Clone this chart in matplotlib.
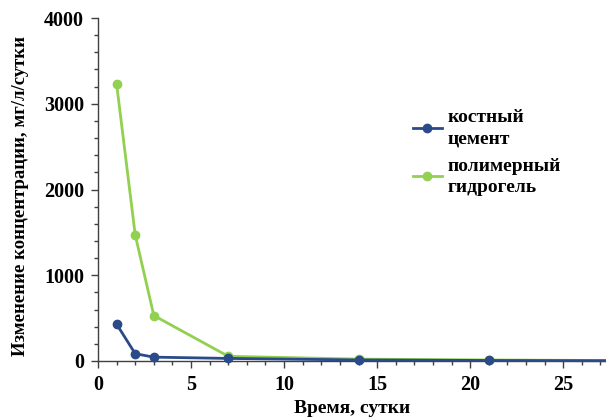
import matplotlib
matplotlib.use("Agg")
import matplotlib.pyplot as plt
from matplotlib.ticker import MultipleLocator

days = [1, 2, 3, 7, 14, 21, 28]
cement = [430, 85, 45, 30, 12, 6, 3]
hydrogel = [3230, 1470, 530, 55, 22, 12, 5]
series_names = ["костный\nцемент", "полимерный\nгидрогель"]

plt.rcParams['font.family'] = ['Liberation Serif', 'DejaVu Serif']
plt.rcParams['font.weight'] = 'bold'

fig = plt.figure(figsize=(6.06, 4.2), dpi=100)
ax = fig.add_axes([98/606, 1-361/420, 1-98/606, (361-18)/420])

ax.plot(days, cement, color='#2A4A8A', lw=2, marker='o', ms=6, label=series_names[0], clip_on=False, zorder=3)
ax.plot(days, hydrogel, color='#92D050', lw=2, marker='o', ms=6, label=series_names[1], clip_on=False, zorder=2)

ax.set_xlim(0, 27.3)
ax.set_ylim(0, 4000)
ax.xaxis.set_major_locator(MultipleLocator(5))
ax.xaxis.set_minor_locator(MultipleLocator(1))
ax.yaxis.set_major_locator(MultipleLocator(1000))
ax.yaxis.set_minor_locator(MultipleLocator(200))
for s in ['top', 'right']:
    ax.spines[s].set_visible(False)
for s in ['left', 'bottom']:
    ax.spines[s].set_color('#404040')
    ax.spines[s].set_linewidth(1)
ax.tick_params(which='major', length=5, width=1, color='#404040', labelsize=14.5, pad=5)
ax.tick_params(which='minor', length=3, width=1, color='#404040')
for lbl in ax.get_xticklabels() + ax.get_yticklabels():
    lbl.set_fontweight('bold')

ax.set_xlabel("Время, сутки", fontsize=14, fontweight='bold', labelpad=4)
ax.set_ylabel("Изменение концентрации, мг/л/сутки", fontsize=13.5, fontweight='bold')
ax.yaxis.set_label_coords(-0.135, 0.48)

leg = ax.legend(loc='upper left', bbox_to_anchor=(0.585, 0.785), frameon=False, fontsize=14,
                handlelength=1.5, handletextpad=0.3, labelspacing=0.5)
for t in leg.get_texts():
    t.set_fontweight('bold')
    t.set_linespacing(1.35)

fig.savefig("out.png", dpi=100)
